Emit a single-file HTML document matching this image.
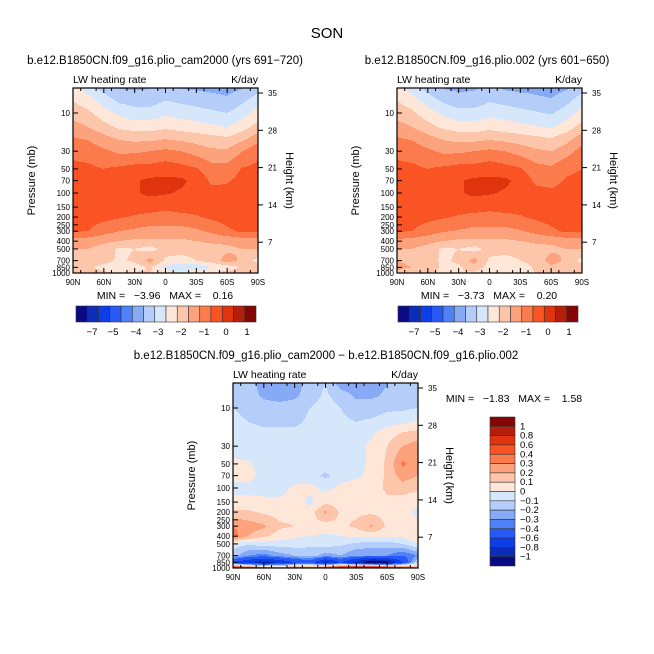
<!DOCTYPE html>
<html><head><meta charset="utf-8">
<style>
html,body{margin:0;padding:0;background:#fff;}
svg{display:block;font-family:"Liberation Sans",sans-serif;}
</style></head>
<body>
<svg id="chart" width="654" height="654" viewBox="0 0 654 654">
<text x="327" y="38" font-size="15" text-anchor="middle">SON</text>
<g id="root"></g>
</svg>
<script>
// ---- data ----
const lats = ["90N","75N","60N","45N","30N","15N","0","15S","30S","45S","60S","75S","90S"];
const levels = [5,7,10,15,20,30,50,70,100,150,200,300,400,500,700,850,1000];
const ctlValues = [
[-1.2,-0.8,-0.3,0.0,0.05,0.0,-0.2,0.0,0.05,0.1,0.15,0.0,-0.3],
[-1.5,-1.2,-0.8,-0.4,-0.3,-0.3,-0.5,-0.4,-0.3,-0.2,-0.1,-0.4,-0.8],
[-1.8,-1.6,-1.2,-0.9,-0.7,-0.7,-0.9,-0.8,-0.7,-0.6,-0.5,-0.8,-1.2],
[-2.2,-2.0,-1.7,-1.4,-1.3,-1.3,-1.4,-1.3,-1.2,-1.1,-1.0,-1.3,-1.7],
[-2.5,-2.4,-2.1,-1.9,-1.8,-1.8,-1.9,-1.8,-1.7,-1.6,-1.5,-1.8,-2.2],
[-2.9,-2.8,-2.6,-2.4,-2.4,-2.5,-2.6,-2.5,-2.3,-2.1,-2.1,-2.5,-2.9],
[-3.1,-3.1,-3.0,-3.1,-3.2,-3.2,-3.3,-3.2,-3.05,-2.7,-2.7,-3.05,-3.1],
[-3.2,-3.2,-3.2,-3.3,-3.45,-3.6,-3.6,-3.6,-3.35,-2.9,-2.95,-3.15,-3.2],
[-3.2,-3.2,-3.2,-3.3,-3.45,-3.6,-3.55,-3.45,-3.3,-3.15,-3.15,-3.2,-3.2],
[-3.2,-3.2,-3.2,-3.2,-3.2,-3.2,-3.1,-3.2,-3.2,-3.2,-3.2,-3.2,-3.2],
[-3.2,-3.2,-3.15,-3.05,-2.95,-2.85,-2.8,-2.85,-2.95,-3.1,-3.2,-3.2,-3.2],
[-3.05,-3.0,-2.7,-2.5,-2.4,-2.3,-2.3,-2.3,-2.4,-2.6,-2.9,-3.1,-3.1],
[-2.3,-2.2,-2.1,-2.0,-1.9,-1.9,-1.9,-1.9,-2.0,-2.1,-2.1,-2.2,-2.2],
[-2.0,-2.0,-1.8,-1.4,-1.5,-1.3,-1.7,-1.6,-1.6,-1.8,-1.9,-2.0,-2.0],
[-2.0,-1.9,-1.7,-1.4,-1.6,-2.2,-1.4,-1.4,-1.5,-1.7,-2.2,-1.9,-1.3],
[-1.8,-1.6,-1.3,-1.1,-1.2,-1.6,-0.8,-0.5,-0.6,-1.0,-1.2,-1.6,-1.8],
[-2.0,-1.8,-1.6,-1.5,-1.6,-1.5,-1.2,-1.3,-1.4,-1.6,-1.7,-1.8,-1.8]];
const expValues = [
[-1.2,-0.8,-0.3,0.0,0.1,0.05,-0.15,0.05,0.1,0.15,0.2,0.05,-0.3],
[-1.5,-1.2,-0.8,-0.4,-0.25,-0.25,-0.45,-0.35,-0.25,-0.15,-0.05,-0.35,-0.8],
[-1.8,-1.6,-1.2,-0.9,-0.65,-0.65,-0.85,-0.75,-0.65,-0.55,-0.45,-0.75,-1.2],
[-2.2,-2.0,-1.7,-1.4,-1.25,-1.25,-1.35,-1.25,-1.15,-1.05,-0.95,-1.25,-1.7],
[-2.5,-2.4,-2.1,-1.9,-1.75,-1.75,-1.85,-1.75,-1.65,-1.55,-1.45,-1.75,-2.2],
[-2.9,-2.8,-2.6,-2.4,-2.4,-2.5,-2.6,-2.5,-2.3,-2.1,-2.0,-2.3,-2.7],
[-3.1,-3.1,-3.0,-3.1,-3.2,-3.2,-3.3,-3.2,-3.05,-2.7,-2.6,-2.9,-3.0],
[-3.2,-3.2,-3.2,-3.3,-3.45,-3.6,-3.6,-3.6,-3.35,-2.9,-2.85,-3.05,-3.1],
[-3.2,-3.2,-3.2,-3.3,-3.45,-3.6,-3.55,-3.45,-3.3,-3.15,-3.1,-3.15,-3.15],
[-3.2,-3.2,-3.2,-3.2,-3.2,-3.2,-3.1,-3.2,-3.2,-3.2,-3.2,-3.2,-3.2],
[-3.2,-3.2,-3.15,-3.05,-2.95,-2.85,-2.85,-2.85,-2.95,-3.1,-3.2,-3.2,-3.2],
[-3.05,-3.0,-2.75,-2.55,-2.45,-2.35,-2.35,-2.35,-2.45,-2.65,-2.9,-3.1,-3.1],
[-2.35,-2.25,-2.15,-2.0,-1.9,-1.9,-1.9,-1.9,-2.0,-2.1,-2.1,-2.2,-2.2],
[-2.0,-2.0,-1.8,-1.4,-1.5,-1.3,-1.7,-1.6,-1.6,-1.8,-1.9,-2.0,-2.0],
[-2.0,-1.9,-1.7,-1.4,-1.6,-2.2,-1.4,-1.4,-1.5,-1.7,-2.2,-1.9,-1.3],
[-2.1,-2.0,-1.8,-1.4,-1.4,-1.8,-1.3,-1.0,-1.2,-1.6,-1.9,-1.8,-1.8],
[-1.9,-1.7,-1.5,-1.4,-1.5,-1.4,-1.2,-1.2,-1.3,-1.5,-1.6,-1.7,-1.7]];
const diffValues = [
[-0.15,-0.15,-0.25,-0.25,-0.25,-0.15,-0.1,-0.25,-0.25,-0.25,-0.2,-0.15,-0.15],
[-0.12,-0.15,-0.22,-0.25,-0.22,-0.15,-0.08,-0.15,-0.22,-0.22,-0.18,-0.15,-0.12],
[-0.1,-0.12,-0.15,-0.15,-0.15,-0.1,-0.05,-0.1,-0.15,-0.15,-0.12,-0.12,-0.1],
[-0.08,-0.1,-0.12,-0.12,-0.12,-0.08,-0.05,-0.08,-0.1,-0.08,-0.05,-0.02,0.02],
[-0.05,-0.06,-0.08,-0.08,-0.08,-0.06,-0.05,-0.06,-0.05,-0.02,0.05,0.1,0.12],
[-0.04,-0.05,-0.06,-0.06,-0.06,-0.05,-0.05,-0.05,-0.03,0.02,0.1,0.2,0.25],
[0.02,0.01,-0.03,-0.05,-0.05,-0.05,-0.05,-0.05,-0.03,0.02,0.12,0.32,0.25],
[0.02,0.02,-0.02,-0.05,-0.05,-0.06,-0.12,-0.05,-0.02,0.03,0.12,0.25,0.2],
[-0.02,-0.02,-0.03,-0.04,0.02,0.03,-0.03,0.03,0.05,0.05,0.12,0.15,0.12],
[0.02,0.02,0.02,0.02,0.05,-0.03,0.08,0.05,0.05,0.05,0.08,0.05,0.02],
[0.12,0.12,0.08,0.06,0.05,0.05,0.22,0.08,0.08,0.08,0.06,0.03,-0.02],
[0.3,0.25,0.22,0.12,0.1,0.08,0.05,0.08,0.12,0.22,0.08,0.05,0.02],
[0.35,0.2,0.12,0.05,0.02,0.0,-0.02,0.0,0.02,0.03,0.02,0.02,0.1],
[-0.05,-0.08,-0.05,-0.05,-0.05,-0.08,-0.05,-0.08,-0.12,-0.15,-0.15,-0.1,0.0],
[-0.15,-0.3,-0.35,-0.25,-0.2,-0.15,-0.25,-0.2,-0.3,-0.3,-0.3,-0.4,-0.3],
[-0.6,-0.8,-0.9,-0.8,-0.6,-0.5,-0.9,-0.6,-0.9,-1.2,-1.1,-0.6,-0.1],
[0.8,0.6,0.4,0.3,0.5,0.4,0.6,0.8,1.0,1.2,0.8,0.5,0.3]];
// contour boundaries (ascending) -> color index
const ctlBounds = [-3.5,-3,-2.5,-2,-1.5,-1,-0.5,0];
const ctlColorIdx = [13,12,11,10,9,8,7,6,5];
const diffBounds = [-1,-0.8,-0.6,-0.4,-0.3,-0.2,-0.1,0,0.1,0.2,0.3,0.4,0.6,0.8,1];
const palette = ["#0a0a85","#0b2db8","#0e3ee8","#2659f6","#4f82f7","#86aaf6","#b4cdf9","#d6e7fc","#fee7d8","#fdc6aa","#fca37e","#fc7b4c","#fb5424","#e0340e","#b41e0a","#870404"];
const ctlBarLabels = ["\u22127","\u22125","\u22124","\u22123","\u22122","\u22121","0","1"];
const diffBarLabels = ["1","0.8","0.6","0.4","0.3","0.2","0.1","0","\u22120.1","\u22120.2","\u22120.3","\u22120.4","\u22120.6","\u22120.8","\u22121"];
const pLabels = [10,30,50,70,100,150,200,250,300,400,500,700,850,1000];
const hLabels = [35,28,21,14,7];
const latLabels = ["90N","60N","30N","0","30S","60S","90S"];

const NS="http://www.w3.org/2000/svg";
const root=document.getElementById('root');
function el(t,a,p){const e=document.createElementNS(NS,t);for(const k in a)e.setAttribute(k,a[k]);(p||root).appendChild(e);return e;}
function txt(x,y,s,size,anchor,p){const e=el('text',{x:x,y:y,'font-size':size,'text-anchor':anchor||'middle'},p);e.textContent=s;return e;}

function colorFor(v,bounds,idxMap){let i=0;while(i<bounds.length&&v>=bounds[i])i++;return idxMap?idxMap[i]:i;}
function interp(grid,fx,fy){
  const nx=grid[0].length-1, ny=grid.length-1;
  fx=Math.max(0,Math.min(nx,fx)); fy=Math.max(0,Math.min(ny,fy));
  const i=Math.min(nx-1,Math.floor(fx)), j=Math.min(ny-1,Math.floor(fy));
  const tx=fx-i, ty=fy-j;
  return grid[j][i]*(1-tx)*(1-ty)+grid[j][i+1]*tx*(1-ty)+grid[j+1][i]*(1-tx)*ty+grid[j+1][i+1]*tx*ty;
}
const logLev=levels.map(p=>Math.log10(p));
function levelFrac(p){const lp=Math.log10(p);if(lp<=logLev[0])return 0;for(let k=0;k<logLev.length-1;k++){if(lp<=logLev[k+1])return k+(lp-logLev[k])/(logLev[k+1]-logLev[k]);}return logLev.length-1;}

function panel(x0,y0,grid,bounds,idxMap,name,title,title2){
  const W=185,H=185;
  const g=el('g',{});
  
  
  const yOf=p=>y0+105+80*Math.log10(p/100);
  const pOf=y=>100*Math.pow(10,(y-y0-105)/80);
  const cells=el('g',{'shape-rendering':'crispEdges'},g);
  
  
  for(let r=0;r<H;r++){
    const fy=levelFrac(pOf(y0+r+0.5));
    let runStart=0,cur=-1;
    for(let c=0;c<=W;c++){
      let ci=-1;
      if(c<W){const fx=(c+0.5)/W*(lats.length-1);ci=colorFor(interp(grid,fx,fy),bounds,idxMap);}
      if(ci!==cur){
        if(cur>=0){const rc=el('rect',{x:x0+runStart,y:y0+r,width:c-runStart,height:1,fill:palette[cur]},cells);
          
          }
        cur=ci;runStart=c;
      }
    }
  }
  const frame=el('rect',{x:x0,y:y0,width:W,height:H,fill:'none',stroke:'#000','stroke-width':1.2},g);
  
  
  latLabels.forEach((l,i)=>{const x=x0+i*W/6;
    el('line',{x1:x,y1:y0+H,x2:x,y2:y0+H-5,stroke:'#000'},g);
    el('line',{x1:x,y1:y0,x2:x,y2:y0+5,stroke:'#000'},g);
    const t=txt(x,y0+H+12,l,8,'middle',g);
    
    });
  for(let i=0;i<12;i++){const x=x0+(i+0.5)*W/12;el('line',{x1:x,y1:y0+H,x2:x,y2:y0+H-3,stroke:'#000'},g);el('line',{x1:x,y1:y0,x2:x,y2:y0+3,stroke:'#000'},g);}
  pLabels.forEach(p=>{const y=yOf(p);
    el('line',{x1:x0,y1:y,x2:x0+5,y2:y,stroke:'#000'},g);
    const t=txt(x0-3,y+3,String(p),8,'end',g);
    
    });
  hLabels.forEach((h,i)=>{const y=y0+5+i*37.3;
    el('line',{x1:x0+W,y1:y,x2:x0+W+5,y2:y,stroke:'#000'},g);
    const t=txt(x0+W+10,y+3,String(h),8,'start',g);
    
    });
  const yt=txt(0,0,'Pressure (mb)',11,'middle',g);yt.setAttribute('transform',`translate(${x0-38},${y0+H/2}) rotate(-90)`);
  
  
  const ht=txt(0,0,'Height (km)',11,'middle',g);ht.setAttribute('transform',`translate(${x0+W+28},${y0+H/2}) rotate(90)`);
  
  
  const lw=txt(x0,y0-5,'LW heating rate',10.5,'start',g);
  
  
  const un=txt(x0+W,y0-5,'K/day',10.5,'end',g);
  
  
  const tt=txt(title2,y0-24,title,11.5,'middle',g);
  
  
  return g;
}
function hbar(x0,y0,name){
  const g=el('g',{});
  
  
  const bw=180/16;
  for(let i=0;i<16;i++){const r=el('rect',{x:x0+i*bw,y:y0,width:bw,height:16,fill:palette[i],stroke:'#333','stroke-width':0.6},g);
    
    }
  const pos=[16,37,60,82,105,128,150,171];
  ctlBarLabels.forEach((l,i)=>{const t=txt(x0+pos[i],y0+29,l,9.5,'middle',g);
    
    });
}
panel(73,88,ctlValues,ctlBounds,ctlColorIdx,'panel-cam2000','b.e12.B1850CN.f09_g16.plio_cam2000 (yrs 691\u2212720)',165);
panel(397,88,expValues,ctlBounds,ctlColorIdx,'panel-plio002','b.e12.B1850CN.f09_g16.plio.002 (yrs 601\u2212650)',487);
let m1=txt(165,299,'MIN =   \u22123.96   MAX =    0.16',10.5);


let m2=txt(489,299,'MIN =   \u22123.73   MAX =    0.20',10.5);


m1.style.whiteSpace='pre';m2.style.whiteSpace='pre';
hbar(76,306,'colorbar-left');
hbar(398,306,'colorbar-right');
panel(233,383,diffValues,diffBounds,null,'panel-difference','b.e12.B1850CN.f09_g16.plio_cam2000 \u2212 b.e12.B1850CN.f09_g16.plio.002',326);
let m3=txt(514,402,'MIN =   \u22121.83   MAX =    1.58',10.5);m3.style.whiteSpace='pre';


(function(){
  const g=el('g',{});
  
  
  const x0=490,y0=417,bh=149/16;
  for(let i=0;i<16;i++){const r=el('rect',{x:x0,y:y0+i*bh,width:25,height:bh,fill:palette[15-i],stroke:'#333','stroke-width':0.6},g);
    
    }
  diffBarLabels.forEach((l,i)=>{const t=txt(x0+30,y0+(i+1)*bh+3,l,9.5,'start',g);
    
    });
})();
</script>
</body></html>
